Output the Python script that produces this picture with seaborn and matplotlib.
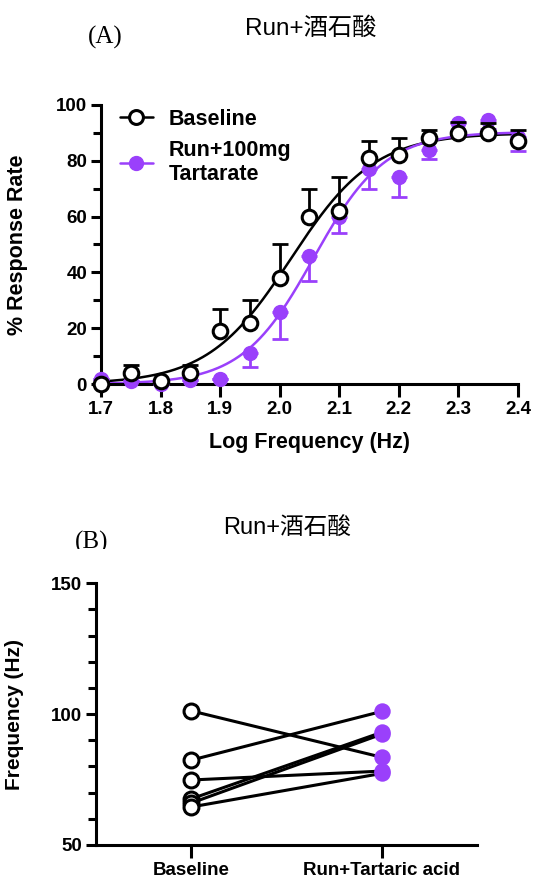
import numpy as np
import pandas as pd
import matplotlib
matplotlib.use('Agg')
import matplotlib.pyplot as plt
from matplotlib.lines import Line2D
from matplotlib.ticker import MultipleLocator
from matplotlib.transforms import Bbox, TransformedBbox
import seaborn as sns

# Panel A data: dose-response, mean and SEM
log_freq = [1.70, 1.75, 1.80, 1.85, 1.90, 1.95, 2.00, 2.05, 2.10, 2.15, 2.20, 2.25, 2.30, 2.35, 2.40]
baseline_mean = [0, 4, 1, 4, 19, 22, 38, 60, 62, 81, 82, 88, 90, 90, 87]
baseline_sem = [0, 3, 0, 3, 8, 8, 12, 10, 12, 6, 6, 3, 4, 3.5, 4]
tartarate_mean = [2, 1, 0, 1.5, 2, 11, 26, 46, 60, 77, 74, 84, 93.5, 94.5, 88.5]
tartarate_sem = [0, 0, 0, 0, 0, 5, 10, 9, 6, 7, 7, 3.5, 3, 3, 5]

# Panel B data: paired frequencies per subject
subjects = [1, 2, 3, 4, 5, 6]
freq_baseline = [101.2, 82.4, 74.8, 67.6, 66.0, 64.5]
freq_tartaric = [83.5, 101.0, 78.2, 93.0, 92.3, 77.3]
conditions = ['Baseline', 'Run+Tartaric acid']

PURPLE = '#9a40fb'
SANS = ['Liberation Sans', 'DejaVu Sans']
CJK = ['Liberation Sans', 'Noto Sans CJK SC', 'DejaVu Sans']


def fit_sigmoid(x, y):
    # bottom fixed at 0, grid search over logEC50 and hill, top solved linearly
    x = np.asarray(x)
    y = np.asarray(y, dtype=float)
    ec50s = np.arange(1.90, 2.20, 0.001)
    hills = np.arange(2.0, 15.0, 0.05)
    E, H = np.meshgrid(ec50s, hills, indexing='ij')
    f = 1.0 / (1.0 + 10 ** ((E[..., None] - x) * H[..., None]))
    top = (f * y).sum(-1) / (f ** 2).sum(-1)
    sse = ((top[..., None] * f - y) ** 2).sum(-1)
    i, j = np.unravel_index(np.argmin(sse), sse.shape)
    return ec50s[i], hills[j], top[i, j]


def sigmoid(x, ec50, hill, top):
    return top / (1.0 + 10 ** ((ec50 - x) * hill))


def style_axes(ax):
    sns.despine(ax=ax)
    for s in ['left', 'bottom']:
        ax.spines[s].set_linewidth(2.2)
        ax.spines[s].set_color('black')
    ax.tick_params(which='major', length=7, width=2.2, labelsize=13.5, pad=3, colors='black')
    ax.tick_params(which='minor', length=6, width=2.2, colors='black')
    for lab in ax.get_xticklabels() + ax.get_yticklabels():
        lab.set_fontfamily(SANS)
        lab.set_fontweight('bold')


def plot_dose_response(fig):
    ax = fig.add_axes([0.189, 0.564, 0.781, 0.317])
    xs = np.linspace(1.70, 2.40, 300)
    curves = []
    for name, y in [('Baseline', baseline_mean), ('Tartarate', tartarate_mean)]:
        ec50, hill, top = fit_sigmoid(log_freq, y)
        curves.append(pd.DataFrame({'x': xs, 'y': sigmoid(xs, ec50, hill, top), 'group': name}))
    curve_df = pd.concat(curves)
    sns.lineplot(data=curve_df, x='x', y='y', hue='group', palette={'Baseline': 'black', 'Tartarate': PURPLE},
                 linewidth=1.8, legend=False, ax=ax, zorder=2)

    zeros = np.zeros(len(log_freq))
    ax.errorbar(log_freq, tartarate_mean, yerr=[tartarate_sem, zeros], fmt='o', color=PURPLE,
                ms=10, elinewidth=2, capsize=6, capthick=2, zorder=3, clip_on=False)
    ax.errorbar(log_freq, baseline_mean, yerr=[zeros, baseline_sem], fmt='none', ecolor='black',
                elinewidth=2, capsize=6, capthick=2, zorder=4, clip_on=False)
    sns.scatterplot(x=log_freq, y=baseline_mean, s=110, color='white', edgecolor='black',
                    linewidth=2.2, zorder=5, clip_on=False, ax=ax)

    ax.set_xlim(1.7, 2.4)
    ax.set_ylim(0, 100)
    ax.yaxis.set_major_locator(MultipleLocator(20))
    ax.yaxis.set_minor_locator(MultipleLocator(10))
    ticks = np.round(np.arange(1.7, 2.41, 0.1), 1)
    ax.set_xticks(ticks)
    ax.set_xticklabels([f'{v:.1f}' for v in ticks])
    style_axes(ax)
    ax.tick_params(axis='x', which='major', length=9)
    ax.set_xlabel('Log Frequency (Hz)', fontsize=15.5, fontweight='bold', family=SANS, labelpad=10)
    ax.set_ylabel('% Response Rate', fontsize=15.5, fontweight='bold', family=SANS)
    ax.yaxis.set_label_coords(-0.175, 0.5)

    handles = [Line2D([], [], color='black', lw=1.8, marker='o', ms=10, mfc='white', mec='black', mew=2.2),
               Line2D([], [], color=PURPLE, lw=1.8, marker='o', ms=10, mfc=PURPLE, mec=PURPLE)]
    ax.legend(handles, ['Baseline', 'Run+100mg\nTartarate'], loc='upper left', bbox_to_anchor=(0.0, 1.055),
              frameon=False, handlelength=1.5, handletextpad=0.75, labelspacing=0.45,
              prop={'family': SANS, 'weight': 'bold', 'size': 15.5})


def plot_paired(fig):
    ax = fig.add_axes([0.180, 0.041, 0.713, 0.297])
    df = pd.DataFrame({
        'subject': subjects * 2,
        'x': [0] * len(subjects) + [1] * len(subjects),
        'freq': freq_baseline + freq_tartaric,
    })
    sns.lineplot(data=df, x='x', y='freq', units='subject', estimator=None, color='black',
                 linewidth=2.2, ax=ax, zorder=2)
    sns.scatterplot(x=[0] * len(subjects), y=freq_baseline, s=115, color='white', edgecolor='black',
                    linewidth=2.2, zorder=3, ax=ax)
    sns.scatterplot(x=[1] * len(subjects), y=freq_tartaric, s=140, color=PURPLE, edgecolor=PURPLE,
                    linewidth=0, zorder=3, ax=ax)
    ax.set_xlim(-0.5, 1.5)
    ax.set_ylim(50, 150)
    ax.set_xticks([0, 1])
    ax.set_xticklabels(conditions)
    ax.yaxis.set_major_locator(MultipleLocator(50))
    ax.yaxis.set_minor_locator(MultipleLocator(10))
    style_axes(ax)
    ax.tick_params(axis='x', which='major', length=9)
    ax.set_xlabel('')
    ax.set_ylabel('Frequency (Hz)', fontsize=15, fontweight='bold', family=SANS)
    ax.yaxis.set_label_coords(-0.19, 0.5)


def main():
    sns.set_style('ticks')
    plt.rcParams['font.family'] = CJK
    plt.rcParams['text.color'] = 'black'
    plt.rcParams['axes.labelcolor'] = 'black'
    fig = plt.figure(figsize=(5.34, 8.81), dpi=100)

    plot_dose_response(fig)
    plot_paired(fig)

    fig.text(0.581, 0.968, 'Run+酒石酸', ha='center', va='center', fontsize=17.5, family=CJK)
    fig.text(0.197, 0.957, '(A)', ha='center', va='center', fontsize=18, family=['Liberation Serif'])
    fig.text(0.537, 0.401, 'Run+酒石酸', ha='center', va='center', fontsize=17, family=CJK)
    tb = fig.text(0.172, 0.384, '(B)', ha='center', va='center', fontsize=18, family=['Liberation Serif'])
    tb.set_clip_box(TransformedBbox(Bbox([[0, 1 - 549 / 881], [1, 1]]), fig.transFigure))
    tb.set_clip_on(True)

    fig.savefig('out.png', dpi=100)
    plt.close(fig)


if __name__ == '__main__':
    main()
